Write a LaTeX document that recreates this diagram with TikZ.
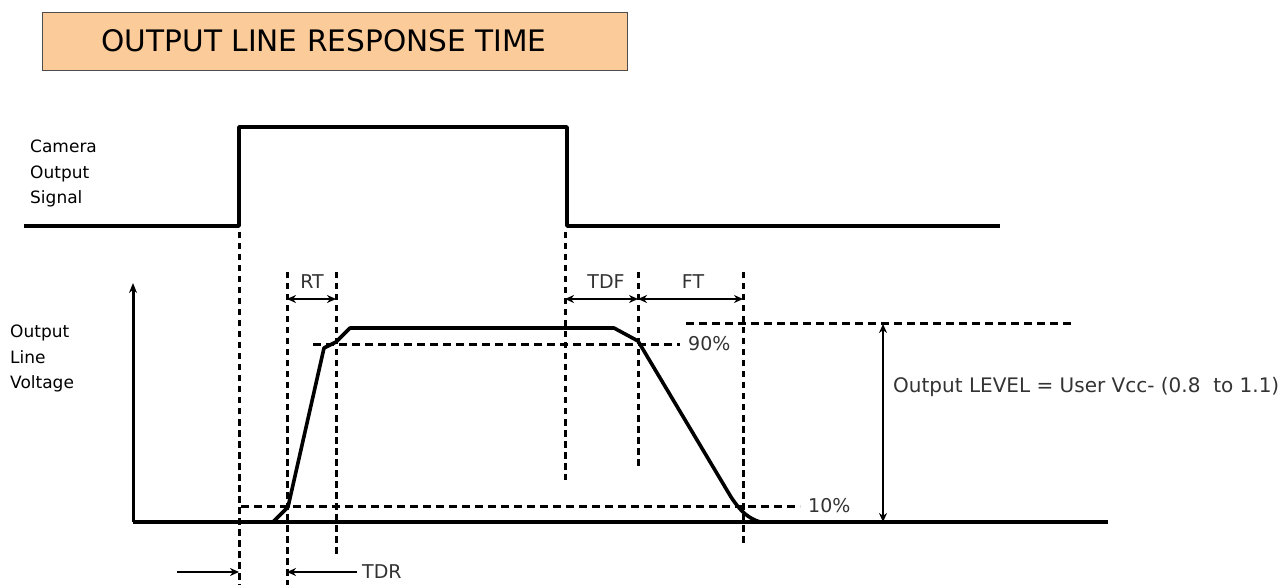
\documentclass[tikz,border=0pt]{standalone}
\usepackage{fontspec}
\setmainfont{DejaVu Sans}
\usetikzlibrary{arrows.meta}
\definecolor{titlefill}{HTML}{FCCB9A}
\definecolor{txt}{HTML}{333333}
\begin{document}
\begin{tikzpicture}[x=1pt,y=-1pt,
  sig/.style={line width=3.6pt, line join=round},
  guide/.style={line width=3pt, dash pattern=on 6.5pt off 4.5pt},
  dim/.style={line width=2.2pt, {Stealth[length=9pt,width=8pt]}-{Stealth[length=9pt,width=8pt]}},
  one/.style={line width=2.2pt, -{Stealth[length=9pt,width=8pt]}},
  lbl/.style={font=\fontsize{19}{21}\selectfont, text=txt, inner sep=0pt},
  side/.style={font=\fontsize{17}{25.8}\selectfont, align=left, anchor=base west, inner sep=0pt}
]
\useasboundingbox (0,0) rectangle (1286,585);

% title
\node[draw=black!70, fill=titlefill, line width=1pt, minimum width=585pt, minimum height=58pt,
      anchor=north west, inner sep=0pt] (title) at (42,12) {};
\node[font=\fontsize{29.6}{30}\selectfont, inner sep=0pt] (titletext) at (324,41) {OUTPUT LINE RESPONSE TIME};

% side labels (anchor = baseline of last line)
\node[side] (camlbl) at (30,204) {Camera\\Output\\Signal};
\node[side] (outlbl) at (10,389) {Output\\Line\\Voltage};

% coordinates
\coordinate (s0) at (24,226);
\coordinate (s1) at (239,226);
\coordinate (s2) at (239,127);
\coordinate (s3) at (567,127);
\coordinate (s4) at (567,226);
\coordinate (s5) at (1000,226);

\coordinate (ax0) at (133,522);
\coordinate (ax1) at (133,283);
\coordinate (base1) at (1108,522);

% camera output signal
\draw[sig] (s0) -- (s1) -- (s2) -- (s3) -- (s4) -- (s5);

% axis and baseline
\draw[line width=3.6pt] (base1) -- (ax0);
\draw[line width=3pt, -{Stealth[length=10pt,width=8pt]}] (ax0) -- (ax1);

% vertical guides
\coordinate (v1a) at (239,232); \coordinate (v1b) at (239,585);
\coordinate (v2a) at (287,272); \coordinate (v2b) at (287,585);
\coordinate (v3a) at (336,272); \coordinate (v3b) at (336,558);
\coordinate (v4a) at (565,232); \coordinate (v4b) at (565,480);
\coordinate (v5a) at (638,272); \coordinate (v5b) at (638,470);
\coordinate (v6a) at (743,272); \coordinate (v6b) at (743,545);
\draw[guide] (v1a) -- (v1b);
\draw[guide] (v2a) -- (v2b);
\draw[guide] (v3a) -- (v3b);
\draw[guide] (v4a) -- (v4b);
\draw[guide] (v5a) -- (v5b);
\draw[guide] (v6a) -- (v6b);

% horizontal guides
\coordinate (h90a) at (313,345); \coordinate (h90b) at (680,345);
\coordinate (h10a) at (241,506); \coordinate (h10b) at (800,506);
\coordinate (htopa) at (686,324); \coordinate (htopb) at (1073,324);
\draw[guide, dash pattern=on 8pt off 5pt] (h90a) -- (h90b);
\draw[guide, dash pattern=on 8pt off 5pt] (h10a) -- (h10b);
\draw[guide, dash pattern=on 8pt off 5pt] (htopa) -- (htopb);

\node[lbl, anchor=west] (p90) at (688,344) {90\%};
\node[lbl, anchor=west] (p10) at (808,506) {10\%};

% output waveform
\draw[sig] (273,522) -- (288,507) -- (324,348) -- (336,342) -- (350,328) -- (614,328)
  -- (638,341) -- (731,497) .. controls (741,512) and (748,518) .. (760,522);

% dimension arrows
\draw[dim] (287,299) -- (336,299);
\node[lbl] (rt) at (312,282) {RT};
\draw[dim] (565,299) -- (638,299);
\node[lbl] (tdf) at (606,282) {TDF};
\draw[dim] (638,299) -- (743,299);
\node[lbl] (ft) at (693,282) {FT};

\draw[dim] (883,324) -- (883,522);
\node[lbl, anchor=west, font=\fontsize{20}{22}\selectfont] (lvl) at (893,387) {Output LEVEL = User Vcc- (0.8~ to 1.1)};

% TDR
\coordinate (tdrl) at (177,572);
\coordinate (tdrr) at (357,572);
\draw[one] (tdrl) -- (239,572);
\draw[one] (tdrr) -- (287,572);
\node[lbl, anchor=west] (tdr) at (362,572) {TDR};
\end{tikzpicture}
\end{document}
